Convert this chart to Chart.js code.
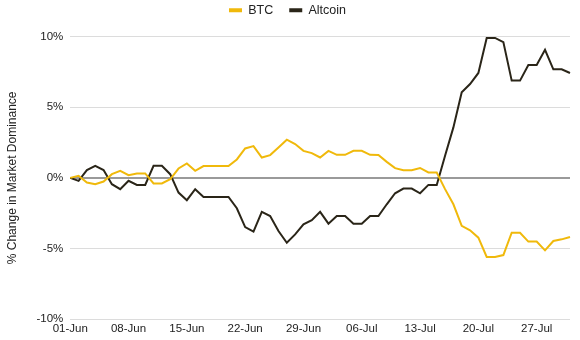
<!DOCTYPE html>
<html>
<head>
<meta charset="utf-8">
<script src="https://cdn.jsdelivr.net/npm/chart.js@4/dist/chart.umd.min.js"></script>
<style>
  html, body { margin: 0; padding: 0; background: #fff; }
  #wrap { width: 580px; height: 340px; position: relative; }
</style>
</head>
<body>
<div id="wrap"><canvas id="c"></canvas></div>
<script>
const days = [
  '01-Jun','02-Jun','03-Jun','04-Jun','05-Jun','06-Jun','07-Jun','08-Jun','09-Jun','10-Jun',
  '11-Jun','12-Jun','13-Jun','14-Jun','15-Jun','16-Jun','17-Jun','18-Jun','19-Jun','20-Jun',
  '21-Jun','22-Jun','23-Jun','24-Jun','25-Jun','26-Jun','27-Jun','28-Jun','29-Jun','30-Jun',
  '01-Jul','02-Jul','03-Jul','04-Jul','05-Jul','06-Jul','07-Jul','08-Jul','09-Jul','10-Jul',
  '11-Jul','12-Jul','13-Jul','14-Jul','15-Jul','16-Jul','17-Jul','18-Jul','19-Jul','20-Jul',
  '21-Jul','22-Jul','23-Jul','24-Jul','25-Jul','26-Jul','27-Jul','28-Jul','29-Jul','30-Jul','31-Jul'
];
const shownDates = ['01-Jun','08-Jun','15-Jun','22-Jun','29-Jun','06-Jul','13-Jul','20-Jul','27-Jul'];

const btc = [
  0, 0.15, -0.33, -0.45, -0.26, 0.26, 0.5, 0.19, 0.31, 0.31,
  -0.4, -0.4, -0.1, 0.66, 1.02, 0.5, 0.83, 0.83, 0.83, 0.83,
  1.3, 2.08, 2.25, 1.44, 1.61, 2.15, 2.7, 2.39, 1.91, 1.75,
  1.44, 1.91, 1.63, 1.63, 1.91, 1.91, 1.63, 1.61, 1.13, 0.69,
  0.54, 0.54, 0.7, 0.38, 0.38, -0.8, -1.87, -3.4, -3.71, -4.23,
  -5.6, -5.6, -5.46, -3.88, -3.88, -4.51, -4.51, -5.13, -4.47, -4.35, -4.18
];
const altcoin = [
  0, -0.21, 0.55, 0.85, 0.55, -0.45, -0.8, -0.21, -0.5, -0.5,
  0.85, 0.85, 0.26, -1.04, -1.58, -0.8, -1.35, -1.35, -1.35, -1.35,
  -2.15, -3.48, -3.8, -2.41, -2.7, -3.76, -4.59, -4.0, -3.29, -3.0,
  -2.41, -3.24, -2.7, -2.7, -3.24, -3.24, -2.7, -2.7, -1.87, -1.09,
  -0.76, -0.76, -1.09, -0.5, -0.5, 1.56, 3.57, 6.05, 6.64, 7.42,
  9.9, 9.9, 9.6, 6.88, 6.88, 7.99, 7.99, 9.06, 7.68, 7.68, 7.42
];
const yTicks = [-10, -5, 0, 5, 10];

const BTC_COLOR = '#F0B90B';
const ALT_COLOR = '#2A2518';

Chart.defaults.font.family = '"Liberation Sans", Arial, sans-serif';
Chart.defaults.font.size = 11.5;
Chart.defaults.color = '#222';

// Adds extra space below the legend
const legendGap = {
  id: 'legendGap',
  beforeLayout(chart) {
    const lg = chart.legend;
    if (lg && !lg._gapPatched) {
      const origFit = lg.fit;
      lg.fit = function () { origFit.call(this); this.height += 10; };
      lg._gapPatched = true;
    }
  }
};

new Chart(document.getElementById('c'), {
  type: 'line',
  data: {
    labels: days,
    datasets: [
      { label: 'BTC', data: btc, borderColor: BTC_COLOR, backgroundColor: BTC_COLOR,
        borderWidth: 2, pointRadius: 0, tension: 0, borderJoinStyle: 'miter' },
      { label: 'Altcoin', data: altcoin, borderColor: ALT_COLOR, backgroundColor: ALT_COLOR,
        borderWidth: 2, pointRadius: 0, tension: 0, borderJoinStyle: 'miter' }
    ]
  },
  plugins: [legendGap],
  options: {
    responsive: true,
    maintainAspectRatio: false,
    animation: false,
    layout: { padding: { top: -12, right: 10, left: 5, bottom: 1 } },
    plugins: {
      tooltip: { enabled: false },
      legend: {
        position: 'top',
        align: 'center',
        labels: {
          boxWidth: 13,
          boxHeight: 4,
          padding: 16,
          color: '#222',
          font: { size: 12.5 },
          generateLabels(chart) {
            const items = Chart.defaults.plugins.legend.labels.generateLabels(chart);
            items.forEach(it => { it.lineWidth = 0; });
            return items;
          }
        }
      }
    },
    scales: {
      x: {
        grid: { display: false, drawTicks: false },
        border: { display: false },
        ticks: {
          autoSkip: false,
          maxRotation: 0,
          padding: 3,
          color: '#222',
          callback(val, i) {
            const l = days[i];
            return shownDates.includes(l) ? l : null;
          }
        }
      },
      y: {
        min: -10,
        max: 10,
        afterBuildTicks(axis) { axis.ticks = yTicks.map(v => ({ value: v })); },
        border: { display: false },
        grid: {
          drawTicks: false,
          color: ctx => (ctx.tick && ctx.tick.value === 0) ? '#9a9a9a' : '#dcdcdc',
          lineWidth: ctx => (ctx.tick && ctx.tick.value === 0) ? 2 : 1
        },
        ticks: {
          padding: 7,
          color: '#222',
          callback: v => v + '%'
        },
        title: {
          display: true,
          text: '% Change in Market Dominance',
          color: '#222',
          font: { size: 12 },
          padding: { top: 0, bottom: 10 }
        }
      }
    }
  }
});
</script>
</body>
</html>
